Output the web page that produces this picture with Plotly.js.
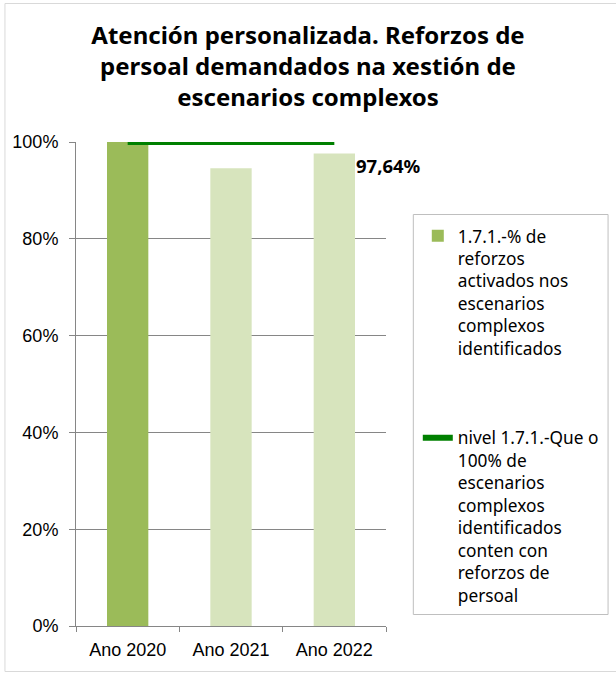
<!DOCTYPE html>
<html>
<head>
<meta charset="utf-8">
<script src="https://cdn.plot.ly/plotly-3.0.1.min.js"></script>
<style>
  html, body { margin: 0; padding: 0; background: #ffffff; }
  #chart { width: 616px; height: 673px; }
</style>
</head>
<body>
<div id="chart"></div>
<script>
// ---- data ----
const categories = ['Ano 2020', 'Ano 2021', 'Ano 2022'];
const reforzosValues = [1.0, 0.946, 0.9764];
const nivelValues = [1.0, 1.0, 1.0];
const barColors = ['#9BBB59', '#D7E4BD', '#D7E4BD'];
const labelIndex = 2;
const labelText = '97,64%';
const seriesNames = [
  '1.7.1.-% de<br>reforzos<br>activados nos<br>escenarios<br>complexos<br>identificados',
  'nivel 1.7.1.-Que o<br>100% de<br>escenarios<br>complexos<br>identificados<br>conten con<br>reforzos de<br>persoal'
];
const titleText = '<b>Atención personalizada. Reforzos de<br>persoal demandados na xestión de<br>escenarios complexos</b>';

// ---- geometry (pixels) ----
const W = 616, H = 673;
const L = 76, R = 388, T = 142, B = 626;
const pw = R - L, ph = B - T;
const px = v => (v - L) / pw;
const py = v => (B - v) / ph;

const FONT = '"Noto Sans", "DejaVu Sans", sans-serif';
const TICKFONT = '"Liberation Sans", Arial, sans-serif';

const traces = [
  {
    type: 'bar',
    x: categories,
    y: reforzosValues,
    name: seriesNames[0],
    legendgroup: 'a',
    width: 0.4,
    marker: { color: barColors, line: { width: 0 } },
    hoverinfo: 'none'
  },
  {
    type: 'scatter',
    mode: 'lines',
    x: categories,
    y: nivelValues,
    name: seriesNames[1],
    legendgroup: 'b',
    line: { color: '#008000', width: 6 },
    hoverinfo: 'none'
  }
];

const layout = {
  width: W,
  height: H,
  margin: { l: L, r: W - R, t: T, b: H - B, pad: 0 },
  paper_bgcolor: '#ffffff',
  plot_bgcolor: '#ffffff',
  font: { family: FONT, size: 15, color: '#000000' },
  title: {
    text: titleText,
    font: { family: FONT, size: 24, color: '#000000' },
    x: 0.5,
    xref: 'container',
    xanchor: 'center',
    y: 1 - 44 / H,
    yref: 'container',
    yanchor: 'top'
  },
  showlegend: true,
  legend: {
    x: px(420),
    y: py(218),
    xanchor: 'left',
    yanchor: 'top',
    bgcolor: 'rgba(0,0,0,0)',
    borderwidth: 0,
    font: { family: FONT, size: 17.3, color: '#000000' },
    traceorder: 'grouped',
    tracegroupgap: 64,
    valign: 'top',
    itemwidth: 30
  },
  xaxis: {
    type: 'category',
    range: [-0.5, 2.5],
    autorange: false,
    showgrid: false,
    showline: true,
    linecolor: '#868686',
    linewidth: 1,
    ticks: 'outside',
    tickson: 'boundaries',
    ticklen: 5,
    tickcolor: '#868686',
    ticklabelstandoff: 7,
    tickfont: { family: TICKFONT, size: 18, color: '#000000' },
    fixedrange: true,
    zeroline: false
  },
  yaxis: {
    range: [0, 1],
    autorange: false,
    dtick: 0.2,
    tick0: 0,
    tickformat: '.0%',
    showgrid: true,
    gridcolor: '#868686',
    gridwidth: 1,
    showline: true,
    linecolor: '#868686',
    linewidth: 1,
    ticks: 'outside',
    ticklen: 6,
    tickcolor: '#868686',
    ticklabelstandoff: 7,
    tickfont: { family: TICKFONT, size: 18, color: '#000000' },
    zeroline: false,
    fixedrange: true
  },
  annotations: [
    {
      x: categories[labelIndex],
      y: reforzosValues[labelIndex],
      xref: 'x',
      yref: 'y',
      text: '<b>' + labelText + '</b>',
      showarrow: false,
      xanchor: 'left',
      yanchor: 'middle',
      xshift: 20,
      yshift: -12,
      font: { family: FONT, size: 18.5, color: '#000000' }
    }
  ],
  shapes: [
    {
      type: 'rect',
      xref: 'paper',
      yref: 'paper',
      x0: px(4.5),
      x1: px(640),
      y0: py(671.5),
      y1: py(3.5),
      line: { color: '#D9D9D9', width: 1 },
      fillcolor: 'rgba(0,0,0,0)',
      layer: 'below'
    },
    {
      type: 'rect',
      xref: 'paper',
      yref: 'paper',
      x0: px(415.5),
      x1: px(611.5),
      y0: py(614.5),
      y1: py(214.5),
      line: { color: '#BFBFBF', width: 1 },
      fillcolor: 'rgba(0,0,0,0)',
      layer: 'above'
    }
  ]
};

Plotly.newPlot('chart', traces, layout, { displayModeBar: false, staticPlot: true });
</script>
</body>
</html>
